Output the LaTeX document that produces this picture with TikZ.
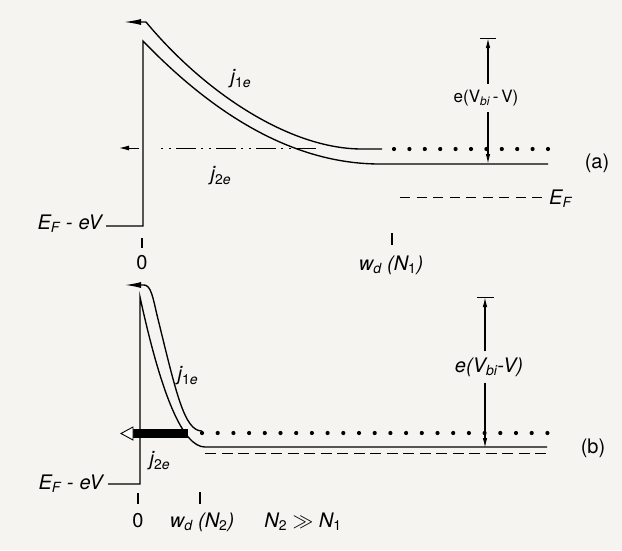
\documentclass[tikz,border=0pt]{standalone}
\usepackage{fontspec}
\setmainfont{TeX Gyre Heros}
\usetikzlibrary{arrows.meta}
\definecolor{bgcol}{RGB}{246,244,241}
\begin{document}
\begin{tikzpicture}[x=1pt,y=-1pt,
  band/.style={line width=1.35pt},
  thinline/.style={line width=1pt},
  lbl/.style={font=\fontsize{20}{24}\selectfont, inner sep=0pt},
  vlbl/.style={font=\fontsize{20}{24}\selectfont, inner sep=6pt},
  earrow/.style={line width=1.2pt,-{Latex[length=10pt,width=4.5pt]}},
  dot/.style={fill=black}]
\fill[bgcol] (0,0) rectangle (622,550);
\useasboundingbox (0,0) rectangle (622,550);

% ---------------- panel (a) ----------------
\coordinate (aL) at (106,226);
\coordinate (aB) at (143,226);
\coordinate (aT) at (143,41);
\coordinate (aF) at (380,164);
\coordinate (aE) at (548,164);
\draw[band] (aL) -- (aB) -- (aT) .. controls (222,123) and (301,164) .. (aF) -- (aE);
% upper curve with arrow (j1e)
\coordinate (aU1) at (382,149);
\coordinate (aU2) at (146,22);
\coordinate (aUtip) at (124,22);
\draw[band,-{Latex[length=17pt,width=6pt]}] (aU1) -- (362,149) .. controls (290,149) and (205,93) .. (aU2) -- (aUtip);
% dotted level
\foreach \i in {0,...,10} \fill[dot] ({394+15.4*\i},149) circle (2.1);
% j2e line
\coordinate (aJ1) at (316,148);
\coordinate (aJ2) at (157,148);
\draw[line width=0.8pt, dash pattern=on 20pt off 5pt on 2pt off 6pt on 2pt off 5pt] (aJ1) -- (aJ2);
\coordinate (aJa) at (139,148);
\coordinate (aJb) at (119,148);
\draw[thinline,-{Latex[length=10pt,width=5pt]}] (aJa) -- (aJb);
% Fermi level dashed
\coordinate (aD1) at (400,197);
\coordinate (aD2) at (548,197);
\draw[thinline, dash pattern=on 10pt off 6.5pt] (aD1) -- (aD2);
\node[lbl, anchor=west] (EFa) at (549,199) {\itshape E\textsubscript{F}};
% ticks
\draw[band] (142,238) -- (142,248);
\draw[band] (392,233) -- (392,245);
\node[lbl] (zeroa) at (142,263) {0};
\node[lbl] (wda) at (391,265) {\itshape w\textsubscript{d} (N\textsubscript{\upshape 1})};
\node[lbl, anchor=base east] (EFeVa) at (102,229) {\itshape E\textsubscript{F}\hspace{0.3em}-\hspace{0.3em}eV};
\node[lbl] (j1a) at (241,79) {\itshape j\textsubscript{\upshape 1\itshape e}};
\node[lbl] (j2a) at (221,176) {\itshape j\textsubscript{\upshape 2\itshape e}};
% energy arrow
\coordinate (aTb) at (488,38);
\coordinate (aBb) at (488,164);
\draw[thinline] (480,38) -- (496,38);
\node[vlbl, font=\fontsize{17}{20}\selectfont] (Va) at (486,98) {e(V\textsubscript{\itshape bi}\,-\,V)};
\draw[earrow] (Va.north -| aTb) -- (aTb);
\draw[earrow] (Va.south -| aBb) -- (aBb);
\node[lbl] (la) at (597,163) {(a)};

% ---------------- panel (b) ----------------
\coordinate (bL) at (108,484);
\coordinate (bB) at (140,484);
\coordinate (bT) at (140,297);
\coordinate (bF) at (205,447);
\coordinate (bE) at (547,447);
\draw[band] (bL) -- (bB) -- (bT) .. controls (161.7,397) and (183.3,447) .. (bF) -- (bE);
% upper curve with arrow (j1e)
\coordinate (bU1) at (202,431);
\coordinate (bU2) at (144,285);
\coordinate (bUtip) at (125,285);
\draw[band,-{Latex[length=16pt,width=6pt]}] (bU1) .. controls (184,431) and (176,392) .. (157,315) .. controls (153,298) and (151,285) .. (bU2) -- (bUtip);
% dotted level
\foreach \i in {0,...,22} \fill[dot] ({202+15.7*\i},433) circle (2.1);
% dashed Fermi level
\coordinate (bD1) at (205,453);
\coordinate (bD2) at (547,453);
\draw[thinline, dash pattern=on 11pt off 5.5pt] (bD1) -- (bD2);
% thick j2e bar with open arrow
\fill (133,429) rectangle (188,438);
\draw[line width=0.9pt, fill=white] (133,427) -- (133,440) -- (121,433.5) -- cycle;
% ticks
\draw[band] (138,493) -- (138,504);
\draw[band] (200,492) -- (200,504);
\node[lbl] (zerob) at (138,521) {0};
\node[lbl] (wdb) at (202,522) {\itshape w\textsubscript{d} (N\textsubscript{\upshape 2})};
\node[lbl] (Nrel) at (303,522) {\itshape N\textsubscript{\upshape 2} $\gg$ N\textsubscript{\upshape 1}};
\node[lbl, anchor=base east] (EFeVb) at (103,489) {\itshape E\textsubscript{F}\hspace{0.3em}-\hspace{0.3em}eV};
\node[lbl] (j1b) at (188,376) {\itshape j\textsubscript{\upshape 1\itshape e}};
\node[lbl] (j2b) at (160,461) {\itshape j\textsubscript{\upshape 2\itshape e}};
% energy arrow
\coordinate (bTb) at (485,297);
\coordinate (bBb) at (485,448);
\draw[thinline] (477,297) -- (494,297);
\node[vlbl] (Vb) at (489,367) {\itshape e(V\textsubscript{bi}-V)};
\draw[earrow] (Vb.north -| bTb) -- (bTb);
\draw[earrow] (Vb.south -| bBb) -- (bBb);
\node[lbl] (lb) at (593,448) {(b)};
\end{tikzpicture}
\end{document}
